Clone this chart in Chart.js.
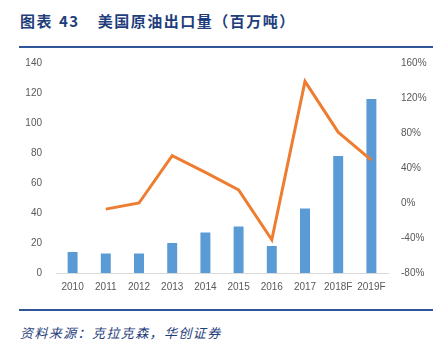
<!DOCTYPE html>
<html>
<head>
<meta charset="utf-8">
<script src="https://cdn.jsdelivr.net/npm/chart.js@4"></script>
<style>
  body { margin: 0; background: #fff; width: 442px; height: 354px; position: relative; overflow: hidden; }
  #title { position: absolute; left: 20px; top: 10px; font: bold 15px "Noto Sans CJK SC", serif; color: #1f3e7c; white-space: pre; letter-spacing: 1.5px; }
  #title .num { margin-left: 6px; margin-right: 18px; }
  .rule { position: absolute; left: 19px; width: 414px; height: 2px; background: #2e5597; }
  #source { position: absolute; left: 20px; top: 323px; font: italic 13px "Noto Sans CJK SC", sans-serif; color: #1f3e7c; letter-spacing: 1.4px; }
  #wrap { position: absolute; left: 0; top: 43px; width: 442px; height: 262px; }
</style>
</head>
<body>
<div id="title">图表<span class="num">43</span>美国原油出口量（百万吨）</div>
<div class="rule" style="top:46px"></div>
<div id="wrap"><canvas id="chart"></canvas></div>
<div class="rule" style="top:309px"></div>
<div id="source">资料来源：克拉克森，华创证券</div>
<script>
var years = ['2010', '2011', '2012', '2013', '2014', '2015', '2016', '2017', '2018F', '2019F'];
var exports = [14, 13, 13, 20, 27, 31, 18, 43, 78, 116];
var growth = [null, -7, 0, 54, 35, 15, -42, 139, 81, 49];

var ctx = document.getElementById('chart').getContext('2d');
var chart = new Chart(ctx, {
    data: {
        labels: years,
        datasets: [{
            type: 'line',
            data: growth,
            yAxisID: 'y1',
            borderColor: '#ed7d31',
            borderWidth: 3,
            pointRadius: 0,
            tension: 0,
            order: 0
        }, {
            type: 'bar',
            data: exports,
            yAxisID: 'y',
            backgroundColor: '#5b9bd5',
            barPercentage: 0.3,
            categoryPercentage: 1,
            order: 1
        }]
    },
    options: {
        responsive: true,
        maintainAspectRatio: false,
        animation: false,
        layout: {padding: {left: 0, right: 0, top: 2, bottom: 4}},
        plugins: {legend: {display: false}, tooltip: {enabled: false}},
        scales: {
            x: {
                grid: {display: false, drawTicks: false},
                border: {color: '#d9d9d9'},
                ticks: {color: '#595959', font: {size: 10}, padding: 8, maxRotation: 0}
            },
            y: {
                position: 'left',
                min: 0, max: 140,
                grid: {display: false, drawTicks: false},
                border: {display: false},
                ticks: {stepSize: 20, color: '#595959', font: {size: 10}, padding: 14},
                afterFit: function (s) { s.width = 56; }
            },
            y1: {
                position: 'right',
                min: -80, max: 160,
                grid: {display: false, drawTicks: false},
                border: {display: false},
                ticks: {stepSize: 40, color: '#595959', font: {size: 10}, padding: 13,
                    callback: function (v) { return v + '%'; }},
                afterFit: function (s) { s.width = 54; }
            }
        }
    }
});
</script>
</body>
</html>
